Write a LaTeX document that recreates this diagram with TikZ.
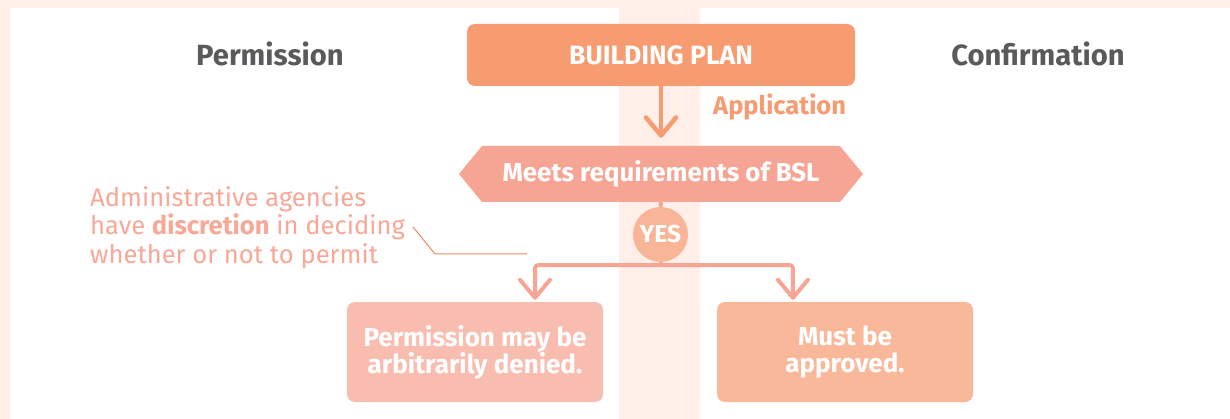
\documentclass[tikz,border=0pt]{standalone}
\usepackage{fontspec}
\setmainfont{Fira Sans}
\usetikzlibrary{arrows.meta,calc}
\definecolor{band}{HTML}{FFEFE8}
\definecolor{headgray}{HTML}{5A5A5C}
\definecolor{bpcol}{HTML}{F69C70}
\definecolor{hexcol}{HTML}{F6A594}
\definecolor{yescol}{HTML}{F9B597}
\definecolor{lboxcol}{HTML}{F9BDB0}
\definecolor{rboxcol}{HTML}{F9B899}
\definecolor{notecol}{HTML}{F7A896}
\definecolor{leadcol}{HTML}{F0875E}
\tikzset{
  heading/.style={font=\fontsize{29.2}{32}\selectfont\bfseries, text=headgray, anchor=base, inner sep=0},
  boxtext/.style={font=\fontsize{26}{27}\selectfont\bfseries, text=white, align=center},
  resultbox/.style={boxtext, rounded corners=8pt, minimum width=256pt, minimum height=100pt, inner sep=0},
  chev/.tip={Straight Barb[length=18pt,width=30pt,round]},
  arrowline/.style={line width=4.5pt, line cap=round, line join=round, -chev},
}
\begin{document}
\begin{tikzpicture}[x=1pt,y=-1pt]
\useasboundingbox (0,0) rectangle (1230,419);
\fill[white] (0,0) rectangle (1230,419);
% bands
\fill[band] (0,0) rectangle (1230,8);
\fill[band] (0,0) rectangle (10,419);
\fill[band] (619,8) rectangle (700,419);
% headings
\node[heading] (perm) at (270,66) {Permission};
\node[heading] (conf) at (1038,66) {Confirmation};
% building plan
\node[fill=bpcol, rounded corners=8pt, minimum width=388pt, minimum height=62pt, inner sep=0,
      text height=18.3pt, text depth=0pt,
      font=\fontsize{26.5}{28}\selectfont\bfseries, text=white] (bp) at (661,55) {BUILDING PLAN};
\node[font=\fontsize{25.5}{28}\selectfont\bfseries, text=bpcol, anchor=base west, inner sep=0] (app) at (713,114.5) {Application};
% hexagon
\coordinate (hexc) at (661,174);
\fill[hexcol] ($(hexc)+(-202,0)$) -- ($(hexc)+(-179,-28)$) -- ($(hexc)+(179,-28)$) -- ($(hexc)+(202,0)$)
   -- ($(hexc)+(179,28)$) -- ($(hexc)+(-179,28)$) -- cycle;
\node[minimum width=404pt, minimum height=56pt, inner sep=0,
      font=\fontsize{25.9}{28}\selectfont\bfseries, text=white] (hex) at (hexc) {Meets requirements of BSL};
\draw[arrowline, bpcol, shorten >=8pt] (bp.south) -- (hex.north);
% YES
\node[circle, fill=yescol, minimum size=55pt, inner sep=0,
      font=\fontsize{24.5}{26}\selectfont\bfseries, text=white] (yes) at (660.5,234.5) {YES};
\draw[hexcol, line width=4pt] (hex.south) -- (yes.north);
% result boxes
\node[resultbox, fill=lboxcol] (lbox) at (475,352) {Permission may be\\arbitrarily denied.};
\node[resultbox, fill=rboxcol] (rbox) at (845,352) {Must be\\approved.};
\coordinate (split) at ([yshift=-3pt]yes.south);
\coordinate (lin) at ($(lbox.north west)!0.734!(lbox.north east)$);
\coordinate (rin) at ($(rbox.north west)!0.297!(rbox.north east)$);
\draw[hexcol, line width=4pt] (yes.south) -- (split);
\draw[arrowline, hexcol, line width=4pt, rounded corners=3pt, shorten >=2pt] (split) -| (lin);
\draw[arrowline, hexcol, line width=4pt, rounded corners=3pt, shorten >=2pt] (split) -| (rin);
% annotation
\node[anchor=north west, inner sep=0, align=left, text=notecol,
      font=\fontsize{25.6}{28.5}\selectfont] (note) at (90,186)
  {Administrative agencies\\have \textbf{discretion} in deciding\\whether or not to permit};
\coordinate (ls) at (413,227);
\coordinate (lbend) at (435,254);
\coordinate (lend) at (527,254);
\draw[leadcol, line width=1pt] (ls) -- (lbend) -- (lend);
\end{tikzpicture}
\end{document}
